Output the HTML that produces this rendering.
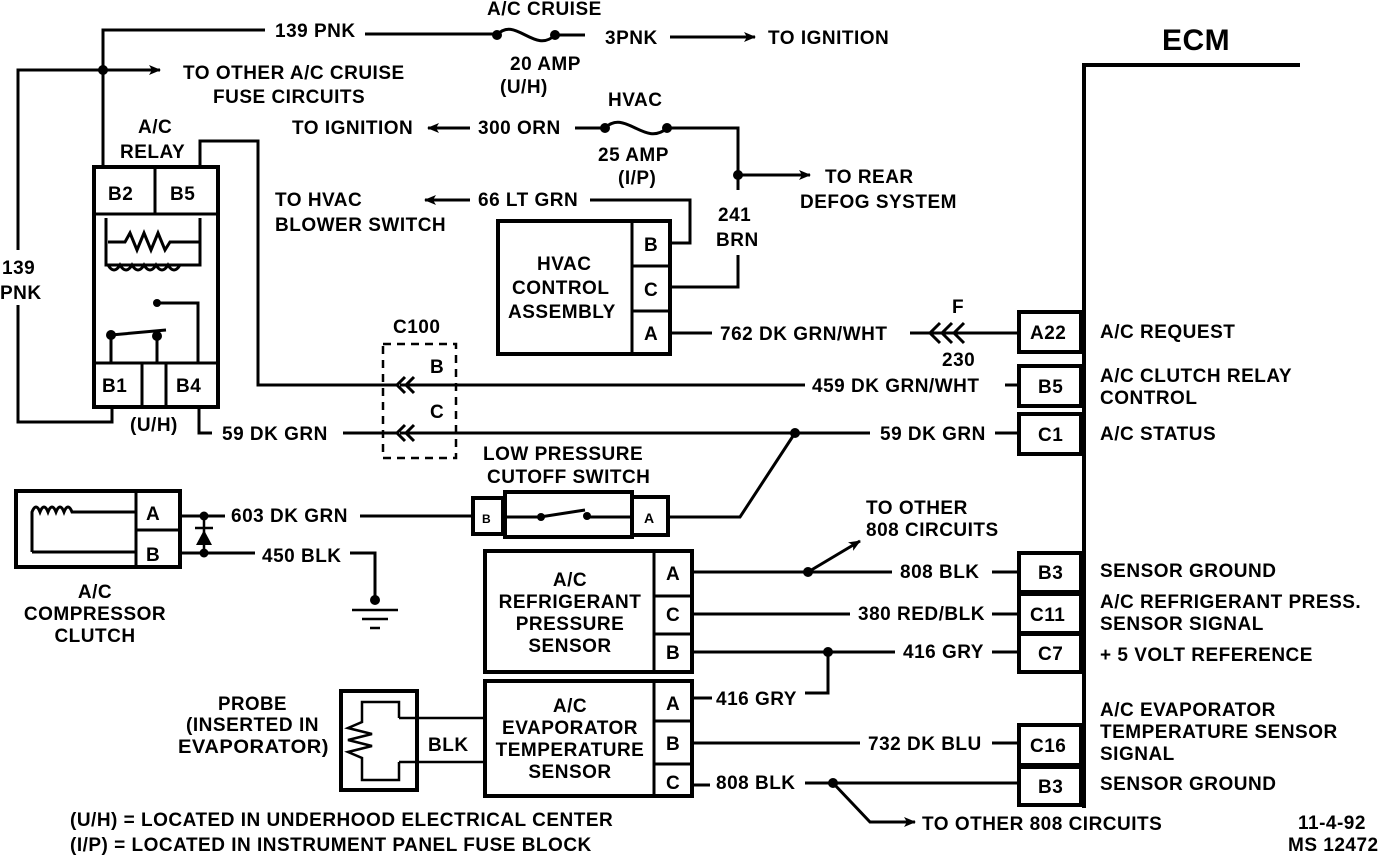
<!DOCTYPE html>
<html><head><meta charset="utf-8"><style>
html,body{margin:0;padding:0;background:#fff;}
svg{display:block;}
text{font-family:"Liberation Sans",sans-serif;font-weight:bold;font-size:19px;letter-spacing:0.5px;fill:#000;}
.l{stroke:#000;stroke-width:3;fill:none;}
.b{stroke:#000;stroke-width:4;fill:#fff;}
</style></head><body>
<svg width="1392" height="856" viewBox="0 0 1392 856" xmlns="http://www.w3.org/2000/svg">
<defs><marker id="ar" markerWidth="12" markerHeight="10" refX="11" refY="5" orient="auto" markerUnits="userSpaceOnUse"><path d="M0,0 L12,5 L0,10 L3,5z" fill="#000"/></marker></defs>

<!-- top fuse line -->
<text x="275" y="37">139 PNK</text>
<path class="l" d="M103,165 V30 H265 M365,34 H497"/>
<path class="l" d="M497,35 C515,15 535,55 555,35 M555,35 H585"/>
<circle cx="497" cy="35" r="5"/><circle cx="555" cy="35" r="5"/>
<text x="487" y="15">A/C CRUISE</text>
<text x="510" y="70">20 AMP</text><text x="500" y="93">(U/H)</text>
<text x="605" y="44">3PNK</text>
<path class="l" d="M670,37 H755" marker-end="url(#ar)"/>
<text x="768" y="44">TO IGNITION</text>
<circle cx="103" cy="70" r="5"/>
<path class="l" d="M18,250 V70 H160" marker-end="url(#ar)"/>
<text x="183" y="79">TO OTHER A/C CRUISE</text><text x="213" y="103">FUSE CIRCUITS</text>
<text x="2" y="274">139</text><text x="0" y="299">PNK</text>
<path class="l" d="M18,305 V422 H112 V408"/>

<!-- relay -->
<text x="138" y="133">A/C</text><text x="120" y="158">RELAY</text>
<rect class="b" x="94" y="167" width="124" height="240"/>
<path class="l" d="M94,214 H218 M155,167 V214 M94,363 H218 M142,363 V407 M166,363 V407"/>
<text x="108" y="200">B2</text><text x="170" y="200">B5</text>
<text x="102" y="392">B1</text><text x="176" y="392">B4</text>
<path class="l" d="M106,218 V265 H200 V218 M108,242 H125 L130,233 L137,250 L144,233 L151,250 L158,233 L165,250 L170,242 H200 M108,265 q6,10 12,0 q6,10 12,0 q6,10 12,0 q6,10 12,0 q6,10 12,0 q6,10 12,0"/>
<circle cx="157" cy="303" r="4"/><path class="l" d="M157,303 H198 V363"/>
<circle cx="111" cy="335" r="5"/><circle cx="157" cy="336" r="5"/>
<path class="l" d="M111,335 L166,330 M111,335 V363 M157,336 V363"/>
<text x="130" y="431">(U/H)</text>
<path class="l" d="M200,167 V141 H258 V385 H398"/>
<path class="l" d="M199,407 V433 H212 M343,433 H398"/>
<text x="222" y="440">59 DK GRN</text>

<!-- C100 -->
<text x="393" y="333">C100</text>
<rect x="383" y="344" width="73" height="114" fill="none" stroke="#000" stroke-width="2.5" stroke-dasharray="8,6"/>
<text x="430" y="373">B</text><text x="430" y="418">C</text>
<path class="l" d="M405,377 l-8,8 l8,8 M414,377 l-8,8 l8,8 M405,425 l-8,8 l8,8 M414,425 l-8,8 l8,8"/>
<path class="l" d="M400,385 H1018 M400,433 H870"/>
<rect x="805" y="372" width="200" height="26" fill="#fff"/>
<text x="812" y="392">459 DK GRN/WHT</text>
<path class="l" d="M995,433 H1018"/>
<circle cx="795" cy="433" r="5"/>
<rect x="870" y="420" width="124" height="24" fill="#fff"/>
<text x="880" y="440">59 DK GRN</text>

<!-- HVAC fuse -->
<text x="292" y="134">TO IGNITION</text>
<path class="l" d="M470,128 H428" marker-end="url(#ar)"/>
<text x="478" y="134">300 ORN</text>
<path class="l" d="M575,128 H605 M605,128 C625,108 645,148 667,128 H738 V190 M738,255 V287 H672"/>
<circle cx="605" cy="128" r="5"/><circle cx="667" cy="128" r="5"/>
<text x="608" y="106">HVAC</text><text x="598" y="161">25 AMP</text><text x="618" y="184">(I/P)</text>
<circle cx="738" cy="175" r="5"/>
<path class="l" d="M738,175 H810" marker-end="url(#ar)"/>
<text x="825" y="183">TO REAR</text><text x="800" y="208">DEFOG SYSTEM</text>
<text x="718" y="221">241</text><text x="716" y="246">BRN</text>
<text x="275" y="206">TO HVAC</text><text x="275" y="231">BLOWER SWITCH</text>
<path class="l" d="M470,200 H425" marker-end="url(#ar)"/>
<text x="478" y="206">66 LT GRN</text>
<path class="l" d="M590,200 H690 V243 H670"/>
<rect class="b" x="498" y="221" width="172" height="133"/>
<path class="l" d="M632,221 V354 M632,266 H670 M632,311 H670"/>
<text x="644" y="251">B</text><text x="644" y="296">C</text><text x="644" y="340">A</text>
<text x="537" y="270">HVAC</text><text x="512" y="294">CONTROL</text><text x="508" y="318">ASSEMBLY</text>
<path class="l" d="M670,333 H712 M910,333 H1018"/>
<text x="720" y="340">762 DK GRN/WHT</text>
<path class="l" d="M940,323 l-10,10 l10,10 M952,323 l-10,10 l10,10 M964,323 l-10,10 l10,10"/>
<text x="952" y="313">F</text><text x="942" y="366">230</text>

<!-- ECM -->
<text x="1162" y="50" style="font-size:30px">ECM</text>
<path class="l" d="M1084,808 V65 H1300" style="stroke-width:4"/>
<g>
<rect class="b" x="1019" y="312" width="62" height="40"/><text x="1030" y="339">A22</text>
<rect class="b" x="1019" y="366" width="62" height="40"/><text x="1038" y="393">B5</text>
<rect class="b" x="1019" y="414" width="62" height="40"/><text x="1038" y="441">C1</text>
<rect class="b" x="1019" y="553" width="62" height="39"/><text x="1038" y="579">B3</text>
<rect class="b" x="1019" y="594" width="62" height="39"/><text x="1030" y="621">C11</text>
<rect class="b" x="1019" y="634" width="62" height="38"/><text x="1038" y="660">C7</text>
<rect class="b" x="1019" y="725" width="62" height="40"/><text x="1030" y="752">C16</text>
<rect class="b" x="1019" y="767" width="62" height="38"/><text x="1038" y="793">B3</text>
</g>
<text x="1100" y="338">A/C REQUEST</text>
<text x="1100" y="382">A/C CLUTCH RELAY</text><text x="1100" y="404">CONTROL</text>
<text x="1100" y="440">A/C STATUS</text>
<text x="1100" y="577">SENSOR GROUND</text>
<text x="1100" y="608">A/C REFRIGERANT PRESS.</text><text x="1100" y="630">SENSOR SIGNAL</text>
<text x="1100" y="661">+ 5 VOLT REFERENCE</text>
<text x="1100" y="716">A/C EVAPORATOR</text><text x="1100" y="738">TEMPERATURE SENSOR</text><text x="1100" y="760">SIGNAL</text>
<text x="1100" y="790">SENSOR GROUND</text>

<!-- low pressure switch -->
<text x="483" y="460">LOW PRESSURE</text><text x="487" y="483">CUTOFF SWITCH</text>
<rect class="b" x="505" y="492" width="127" height="45"/>
<rect class="b" x="473" y="498" width="30" height="36"/><rect class="b" x="632" y="497" width="36" height="38"/>
<text x="482" y="523" style="font-size:12px">B</text><text x="644" y="523" style="font-size:14px">A</text>
<path class="l" d="M505,517 H540 L585,510 M588,517 H630"/>
<circle cx="541" cy="517" r="4"/><circle cx="587" cy="516" r="4"/>
<path class="l" d="M668,517 H740 L795,433"/>

<!-- compressor -->
<rect class="b" x="16" y="491" width="164" height="76"/>
<path class="l" d="M136,491 V567 M136,530 H180"/>
<text x="146" y="520">A</text><text x="146" y="561">B</text>
<path class="l" d="M32,552 V512 q4,-10 8,0 q4,-10 8,0 q4,-10 8,0 q4,-10 8,0 q4,-10 8,0 H136 M32,552 H136"/>
<path class="l" d="M180,516 H225 M360,516 H473 M180,553 H255 M350,553 H375 V600"/>
<circle cx="204" cy="516" r="4.5"/><circle cx="204" cy="553" r="4.5"/>
<path d="M195,528 H213 M204,518 V552" class="l" style="stroke-width:2.5"/>
<path d="M196,545 L204,530 L212,545z"/>
<text x="231" y="522">603 DK GRN</text><text x="262" y="562">450 BLK</text>
<circle cx="375" cy="600" r="5"/>
<path class="l" d="M352,610 H398 M362,619 H388 M370,628 H380" style="stroke-width:2.5"/>
<text x="95" y="598" text-anchor="middle">A/C</text><text x="95" y="620" text-anchor="middle">COMPRESSOR</text><text x="95" y="642" text-anchor="middle">CLUTCH</text>

<!-- refrigerant sensor -->
<rect class="b" x="485" y="551" width="207" height="121"/>
<path class="l" d="M654,551 V672 M654,596 H692 M654,634 H692"/>
<text x="666" y="580">A</text><text x="666" y="621">C</text><text x="666" y="659">B</text>
<text x="570" y="586" text-anchor="middle">A/C</text><text x="570" y="608" text-anchor="middle">REFRIGERANT</text><text x="570" y="630" text-anchor="middle">PRESSURE</text><text x="570" y="652" text-anchor="middle">SENSOR</text>
<path class="l" d="M692,572 H892 M992,572 H1018 M692,614 H850 M992,614 H1018 M692,652 H895 M992,652 H1018 M828,652 V693 H805 M692,698 H712"/>
<circle cx="808" cy="572" r="5"/><circle cx="828" cy="652" r="5"/>
<path class="l" d="M808,572 L860,541" marker-end="url(#ar)"/>
<text x="866" y="514">TO OTHER</text><text x="866" y="536">808 CIRCUITS</text>
<text x="900" y="578">808 BLK</text><text x="858" y="620">380 RED/BLK</text><text x="903" y="658">416 GRY</text>
<text x="716" y="705">416 GRY</text>

<!-- evaporator sensor -->
<rect class="b" x="485" y="681" width="207" height="115"/>
<path class="l" d="M654,681 V796 M654,721 H692 M654,764 H692"/>
<text x="666" y="710">A</text><text x="666" y="750">B</text><text x="666" y="789">C</text>
<text x="570" y="712" text-anchor="middle">A/C</text><text x="570" y="734" text-anchor="middle">EVAPORATOR</text><text x="570" y="756" text-anchor="middle">TEMPERATURE</text><text x="570" y="778" text-anchor="middle">SENSOR</text>
<path class="l" d="M692,743 H860 M992,743 H1018 M692,785 H710 M805,783 H1018"/>
<text x="868" y="750">732 DK BLU</text><text x="716" y="789">808 BLK</text>
<circle cx="833" cy="783" r="5"/>
<path class="l" d="M833,783 L870,822 H915" marker-end="url(#ar)"/>
<text x="922" y="830">TO OTHER 808 CIRCUITS</text>

<!-- probe -->
<rect class="b" x="341" y="691" width="76" height="99"/>
<path class="l" d="M399,718 H485 M399,762 H485 M399,718 V702 H362 V722 L348,728 L372,734 L348,740 L372,746 L348,752 L362,758 V780 H399 V762" style="stroke-width:2.5"/>
<text x="428" y="751">BLK</text>
<text x="218" y="710" textLength="69" lengthAdjust="spacingAndGlyphs">PROBE</text>
<text x="186" y="731" textLength="133" lengthAdjust="spacingAndGlyphs">(INSERTED IN</text>
<text x="178" y="753" textLength="151" lengthAdjust="spacingAndGlyphs">EVAPORATOR)</text>

<text x="70" y="826">(U/H) = LOCATED IN UNDERHOOD ELECTRICAL CENTER</text>
<text x="70" y="851">(I/P) = LOCATED IN INSTRUMENT PANEL FUSE BLOCK</text>
<text x="1298" y="829">11-4-92</text><text x="1288" y="851">MS 12472</text>
</svg>
</body></html>
